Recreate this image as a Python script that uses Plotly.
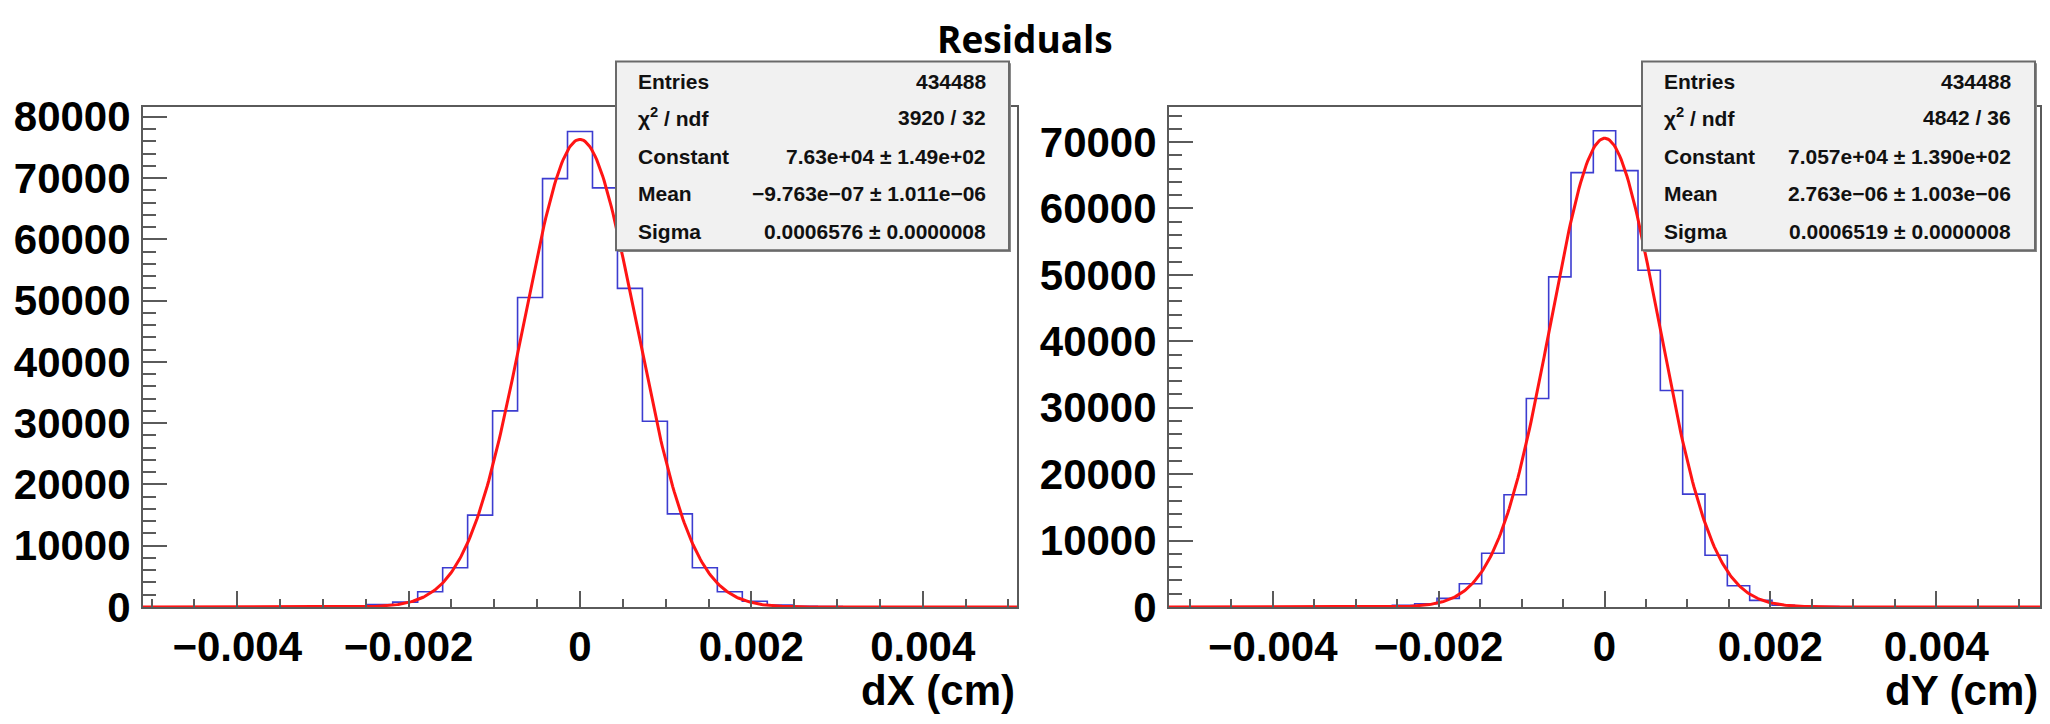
import numpy as np
import plotly.graph_objects as go

# ---------------- data ----------------
TITLE = "Residuals"

# left histogram (dX)
DX_RANGE = [-0.0051, 0.0051]
DX_COUNTS = [10, 12, 15, 20, 25, 35, 50, 80,
             150, 400, 800, 2500, 6400, 15000, 32000, 50500, 69900,
             77600,
             68400, 52000, 30300, 15200, 6400, 2500, 950, 300, 120,
             80, 50, 35, 25, 20, 15, 12, 10]
DX_FIT = dict(constant=7.63e4, mean=-9.763e-07, sigma=0.0006576)
DX_STATS_LABELS = ["Entries", "χ<sup>2</sup> / ndf", "Constant", "Mean", "Sigma"]
DX_STATS_VALUES = ["434488", "3920 / 32", "7.63e+04 ± 1.49e+02",
                   "−9.763e−07 ± 1.011e−06", "0.0006576 ± 0.0000008"]
DX_YMAX = 81600

# right histogram (dY)
DY_RANGE = [-0.00525, 0.00525]
DY_COUNTS = [5, 6, 8, 10, 12, 15, 20, 30, 40, 60,
             250, 500, 1300, 3500, 8100, 16900, 31400, 49700, 65400,
             71700,
             65700, 50700, 32600, 17000, 7800, 3200, 1000, 260, 100,
             60, 40, 30, 20, 15, 12, 10, 8, 6, 5]
DY_FIT = dict(constant=7.057e4, mean=2.763e-06, sigma=0.0006519)
DY_STATS_LABELS = ["Entries", "χ<sup>2</sup> / ndf", "Constant", "Mean", "Sigma"]
DY_STATS_VALUES = ["434488", "4842 / 36", "7.057e+04 ± 1.390e+02",
                   "2.763e−06 ± 1.003e−06", "0.0006519 ± 0.0000008"]
DY_YMAX = 75290

X_TITLES = ["dX (cm)", "dY (cm)"]

# ---------------- layout helpers ----------------
W, H = 2050, 724


def px(x):
    return x / W


def py(y):
    return 1 - y / H


FRAME_COLOR = "#5a5a5a"
HIST_COLOR = "#3c3cd0"
FIT_COLOR = "#ff1414"
TICK_FONT = dict(family="Liberation Sans, Arial, sans-serif", size=42, color="black", weight="bold")

fig = go.Figure()


def add_panel(idx, xr, counts, fit):
    xa = "x" if idx == 1 else f"x{idx}"
    ya = "y" if idx == 1 else f"y{idx}"
    edges = np.linspace(xr[0], xr[1], len(counts) + 1)
    ys = list(counts) + [counts[-1]]
    fig.add_trace(go.Scatter(x=edges, y=ys, mode="lines", line_shape="hv",
                             line=dict(color=HIST_COLOR, width=1.6),
                             xaxis=xa, yaxis=ya, showlegend=False, hoverinfo="skip"))
    xf = np.linspace(xr[0], xr[1], 600)
    yf = fit["constant"] * np.exp(-0.5 * ((xf - fit["mean"]) / fit["sigma"]) ** 2)
    fig.add_trace(go.Scatter(x=xf, y=yf, mode="lines",
                             line=dict(color=FIT_COLOR, width=3),
                             xaxis=xa, yaxis=ya, showlegend=False, hoverinfo="skip"))


add_panel(1, DX_RANGE, DX_COUNTS, DX_FIT)
add_panel(2, DY_RANGE, DY_COUNTS, DY_FIT)

ydom = [py(626), py(99)]
common_x = dict(showgrid=False, zeroline=False, showline=True, mirror=True,
                linecolor=FRAME_COLOR, linewidth=2, ticks="inside", ticklen=16,
                tickcolor=FRAME_COLOR, tickwidth=2, dtick=0.002, tick0=0,
                tickfont=TICK_FONT, ticklabelstandoff=2,
                minor=dict(dtick=0.0005, tick0=0, ticks="inside", ticklen=8,
                           tickcolor=FRAME_COLOR, tickwidth=2))
common_y = dict(showgrid=False, zeroline=False, showline=True, mirror=True,
                linecolor=FRAME_COLOR, linewidth=2, ticks="inside", ticklen=24,
                tickcolor=FRAME_COLOR, tickwidth=2, dtick=10000, tick0=0,
                tickformat="d", tickfont=TICK_FONT, ticklabelstandoff=2,
                minor=dict(dtick=2000, tick0=0, ticks="inside", ticklen=13,
                           tickcolor=FRAME_COLOR, tickwidth=2))

fig.update_layout(
    width=W, height=H, margin=dict(l=0, r=0, t=0, b=0),
    paper_bgcolor="white", plot_bgcolor="white",
    xaxis=dict(domain=[px(143), px(1017)], range=DX_RANGE, anchor="y", **common_x),
    yaxis=dict(domain=ydom, range=[0, DX_YMAX], anchor="x", **common_y),
    xaxis2=dict(domain=[px(1169), px(2040)], range=DY_RANGE, anchor="y2", **common_x),
    yaxis2=dict(domain=ydom, range=[0, DY_YMAX], anchor="x2", **common_y),
)

shapes = []
annotations = []

# title
annotations.append(dict(x=0.5, y=py(27), xref="paper", yref="paper", text=f"<b>{TITLE}</b>",
                        showarrow=False, xanchor="center", yanchor="middle",
                        font=dict(family="Open Sans, sans-serif", size=37, color="black")))

# axis titles
for xt, xr_px in zip(X_TITLES, [1017, 2040]):
    annotations.append(dict(x=px(xr_px), y=py(714), xref="paper", yref="paper", text=xt,
                            showarrow=False, xanchor="right", yanchor="middle",
                            font=TICK_FONT))

# stats boxes
ROW_Y = [71.7, 110, 151.7, 190.7, 230]
STATS_FONT = dict(family="Liberation Sans, Arial, sans-serif", size=21, color="#111")
for (bx0, bx1, lab_x, val_x, labels, values) in [
        (616, 1009, 636, 988, DX_STATS_LABELS, DX_STATS_VALUES),
        (1642, 2035, 1662, 2013, DY_STATS_LABELS, DY_STATS_VALUES)]:
    shapes.append(dict(type="rect", xref="paper", yref="paper",
                       x0=px(bx0 + 2), x1=px(bx1 + 2), y0=py(252), y1=py(53),
                       fillcolor="#8a8a8a", line=dict(width=0), layer="above"))
    shapes.append(dict(type="rect", xref="paper", yref="paper",
                       x0=px(bx0), x1=px(bx1), y0=py(250), y1=py(51),
                       fillcolor="#f1f1f1", line=dict(color="#6a6a6a", width=2), layer="above"))
    for ry, lab, val in zip(ROW_Y, labels, values):
        annotations.append(dict(x=px(lab_x), y=py(ry), xref="paper", yref="paper", text=f"<b>{lab}</b>",
                                showarrow=False, xanchor="left", yanchor="middle", font=STATS_FONT))
        annotations.append(dict(x=px(val_x), y=py(ry), xref="paper", yref="paper", text=f"<b>{val}</b>",
                                showarrow=False, xanchor="right", yanchor="middle", font=STATS_FONT))

fig.update_layout(shapes=shapes, annotations=annotations)

fig.write_html("out.html")
